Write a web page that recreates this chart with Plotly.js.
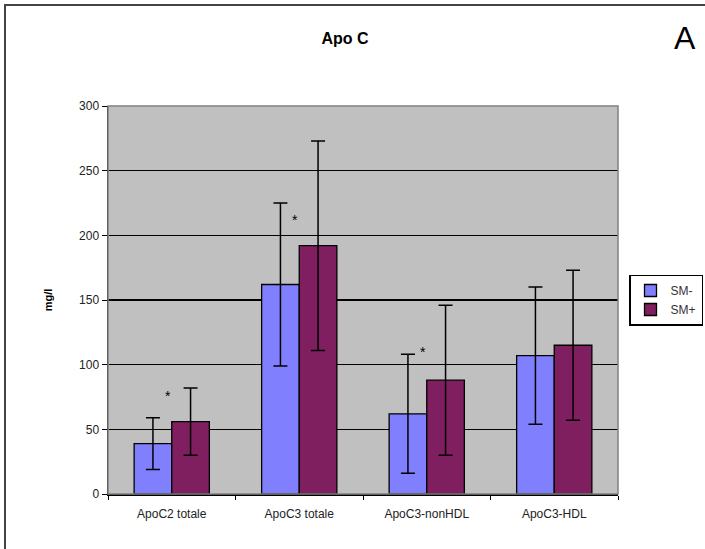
<!DOCTYPE html>
<html><head><meta charset="utf-8">
<script src="https://cdn.plot.ly/plotly-3.0.1.min.js"></script>
<style>
body{margin:0;padding:0;background:#fff;}
#wrap{position:relative;width:705px;height:549px;overflow:hidden;}
#chart{position:absolute;left:0;top:0;width:705px;height:549px;}
#frame{position:absolute;left:4px;top:4px;width:720px;height:560px;border-left:2px solid #444;border-top:2px solid #444;pointer-events:none;}
</style></head>
<body>
<div id="wrap"><div id="chart"></div><div id="frame"></div></div>
<script>
const categories = ["ApoC2 totale", "ApoC3 totale", "ApoC3-nonHDL", "ApoC3-HDL"];
const seriesNames = ["SM-", "SM+"];
const smMinus = [39, 162, 62, 107];
const smMinusErr = [20, 63, 46, 53];
const smPlus = [56, 192, 88, 115];
const smPlusErr = [26, 81, 58, 58];
const starCategoryIndex = [0, 1, 2];
const starValues = [76, 212, 110];
const yTicks = [0, 50, 100, 150, 200, 250, 300];

const font = "Liberation Sans, Arial, sans-serif";
const errStyle = {type: 'data', visible: true, color: '#000', thickness: 1.5, width: 7};

const traces = [
  {type: 'bar', name: seriesNames[0], x: categories, y: smMinus,
   error_y: Object.assign({array: smMinusErr}, errStyle),
   marker: {color: '#8080FF', line: {color: '#000', width: 1.3}}},
  {type: 'bar', name: seriesNames[1], x: categories, y: smPlus,
   error_y: Object.assign({array: smPlusErr}, errStyle),
   marker: {color: '#7F1F5F', line: {color: '#000', width: 1.3}}}
];

const L = 108, R = 2, T = 106, B = 55;
const pw = 705 - L - R, ph = 549 - T - B;
const annotations = starCategoryIndex.map((c, i) => ({
  x: c - 0.03, y: starValues[i], xref: 'x', yref: 'y', text: '*', showarrow: false,
  xanchor: 'center', yanchor: 'middle',
  font: {family: font, size: 14, color: '#000'}
}));
annotations.push({x: (685 - L) / pw, y: (549 - B - 38) / ph, xref: 'paper', yref: 'paper',
  text: 'A', showarrow: false, xanchor: 'center', yanchor: 'middle',
  font: {family: font, size: 32, color: '#000'}});

const layout = {
  width: 705, height: 549,
  margin: {l: L, r: R, t: T, b: B},
  paper_bgcolor: '#fff', plot_bgcolor: '#C0C0C0',
  title: {text: '<b>Apo C</b>', x: (345 - 0) / 705, xanchor: 'center', xref: 'container',
    y: 0.93, yanchor: 'middle', font: {family: font, size: 16, color: '#000'}},
  barmode: 'group', bargap: 0.41, bargroupgap: 0,
  showlegend: true,
  legend: {x: (703 - L) / pw, xanchor: 'right', y: 0.5, yanchor: 'middle', bgcolor: '#fff',
    bordercolor: '#000', borderwidth: 1.5, font: {family: font, size: 12, color: '#333'},
    itemwidth: 30, tracegroupgap: 0},
  xaxis: {type: 'category', domain: [0, (618 - L) / pw], showline: true, linecolor: '#000', linewidth: 1.5,
    ticks: 'outside', tickson: 'boundaries', ticklen: 4, tickcolor: '#000',
    ticklabelstandoff: 8,
    tickfont: {family: font, size: 12, color: '#222'}, showgrid: false, zeroline: false},
  yaxis: {range: [0, 300], tickvals: yTicks, showline: true, linecolor: '#000', linewidth: 1.5,
    ticks: 'outside', ticklen: 5, tickcolor: '#000', gridcolor: '#000', gridwidth: 1.2,
    zeroline: false, tickfont: {family: font, size: 12, color: '#222'},
    title: {text: '<b>mg/l</b>', standoff: 24, font: {family: font, size: 11, color: '#000'}}},
  shapes: [{type: 'rect', xref: 'x domain', yref: 'y domain', x0: 0, x1: 1, y0: 0, y1: 1,
    line: {color: '#808080', width: 1.5}}],
  annotations: annotations
};

Plotly.newPlot('chart', traces, layout, {displayModeBar: false, staticPlot: true});
</script>
</body></html>
